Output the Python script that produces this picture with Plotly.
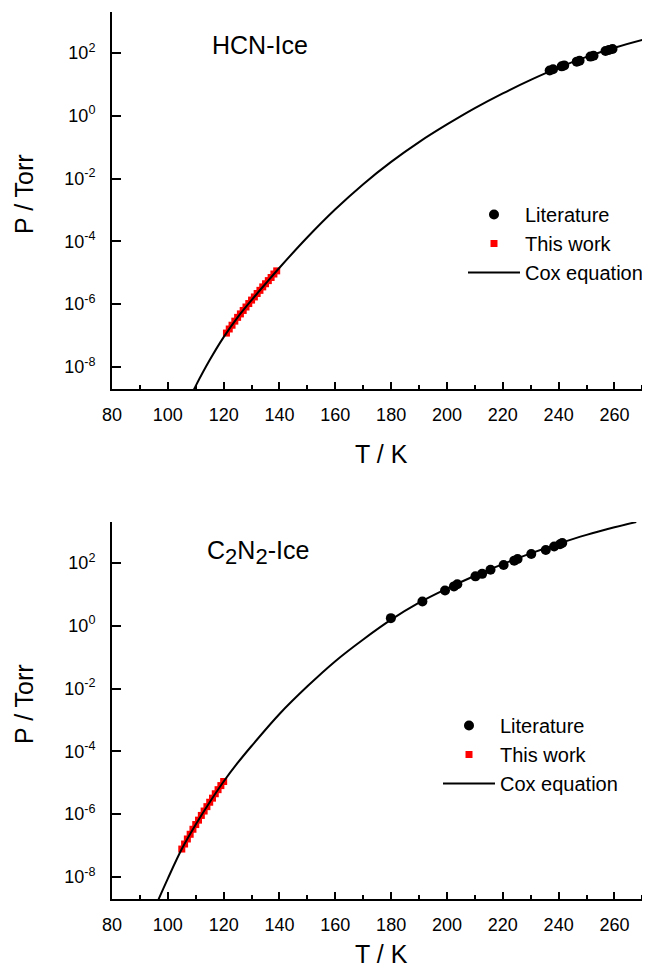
import numpy as np
import plotly.graph_objects as go

# ---------------- data ----------------
# HCN ice (top panel)
hcn_lit_T = [236.8, 238.0, 241.1, 242.0, 246.5, 247.5, 251.4, 252.5, 256.8, 258.0, 259.3]
hcn_lit_logP = [1.44, 1.48, 1.57, 1.60, 1.72, 1.75, 1.88, 1.91, 2.06, 2.09, 2.12]

hcn_work_T = [121, 122, 123, 124, 125, 126, 127, 128, 129, 130,
              131, 132, 133, 134, 135, 136, 137, 138, 139]
hcn_work_logP = [-6.92, -6.79, -6.67, -6.54, -6.42, -6.31, -6.20, -6.09, -5.98, -5.87,
                 -5.77, -5.66, -5.56, -5.45, -5.35, -5.25, -5.15, -5.04, -4.94]

hcn_cox_T = [105, 110, 115, 120, 125, 130, 135, 140, 150, 160, 170, 180,
             190, 200, 210, 220, 230, 240, 250, 260, 270, 280]
hcn_cox_logP = [-9.50, -8.60, -7.78, -7.05, -6.42, -5.87, -5.35, -4.84, -3.87, -2.98,
                -2.18, -1.47, -0.84, -0.28, 0.24, 0.71, 1.14, 1.53, 1.87, 2.16,
                2.41, 2.63]

# C2N2 ice (bottom panel)
c2n2_lit_T = [179.9, 191.2, 199.3, 202.5, 203.7, 210.2, 212.6, 215.6, 220.3, 224.1,
              225.3, 230.2, 235.4, 238.4, 240.5, 241.3]
c2n2_lit_logP = [0.24, 0.77, 1.12, 1.25, 1.32, 1.57, 1.65, 1.78, 1.93, 2.07,
                 2.12, 2.28, 2.41, 2.52, 2.59, 2.63]

c2n2_work_T = [105, 106, 107, 108, 109, 110, 111, 112, 113, 114, 115, 116, 117, 118, 119, 120]
c2n2_work_logP = [-7.11, -6.95, -6.79, -6.64, -6.48, -6.33, -6.19, -6.04, -5.90, -5.76,
                  -5.62, -5.49, -5.35, -5.22, -5.09, -4.96]

c2n2_cox_T = [95, 100, 105, 110, 115, 120, 125, 130, 140, 150, 160, 170, 180,
              190, 200, 210, 220, 230, 240, 250, 260, 267.8]
c2n2_cox_logP = [-9.05, -8.05, -7.11, -6.33, -5.62, -4.96, -4.37, -3.83, -2.81, -1.93,
                 -1.13, -0.44, 0.19, 0.73, 1.18, 1.59, 1.96, 2.30, 2.61, 2.89,
                 3.13, 3.30]

y_tickvals = [1e-8, 1e-6, 1e-4, 1e-2, 1e0, 1e2]
y_ticktext = ["10<sup>-8</sup>", "10<sup>-6</sup>", "10<sup>-4</sup>",
              "10<sup>-2</sup>", "10<sup>0</sup>", "10<sup>2</sup>"]
x_tickvals = [80, 100, 120, 140, 160, 180, 200, 220, 240, 260]

# ---------------- figure ----------------
W, H = 650, 975
OFF = 8  # page body margin of the browser
FONT = "Arial, 'Liberation Sans', sans-serif"


def px(x):
    return (x - OFF) / W


def py(y):
    return 1 - (y - OFF) / H


def P(vals):
    return [10 ** v for v in vals]


fig = go.Figure()

panels = [
    ("x", "y", "legend", hcn_lit_T, hcn_lit_logP, hcn_work_T, hcn_work_logP, hcn_cox_T, hcn_cox_logP),
    ("x2", "y2", "legend2", c2n2_lit_T, c2n2_lit_logP, c2n2_work_T, c2n2_work_logP, c2n2_cox_T, c2n2_cox_logP),
]

for xa, ya, lg, lT, lP, wT, wP, cT, cP in panels:
    fig.add_trace(go.Scatter(
        x=wT, y=P(wP), mode="markers", name="This work", legend=lg, legendrank=2,
        marker=dict(symbol="square", size=7, color="#ff0000", line=dict(width=0)),
        xaxis=xa, yaxis=ya))
    fig.add_trace(go.Scatter(
        x=cT, y=P(cP), mode="lines", name="Cox equation", legend=lg, legendrank=3,
        line=dict(color="black", width=2, shape="spline", smoothing=1.0),
        xaxis=xa, yaxis=ya))
    fig.add_trace(go.Scatter(
        x=lT, y=P(lP), mode="markers", name="Literature", legend=lg, legendrank=1,
        marker=dict(symbol="circle", size=10, color="black", line=dict(width=0)),
        xaxis=xa, yaxis=ya))

xcommon = dict(
    range=[80, 275.6], showline=True, linecolor="black", linewidth=2,
    ticks="inside", ticklen=7, tickwidth=2, tickcolor="black",
    tickmode="array", tickvals=x_tickvals, showgrid=False, zeroline=False, automargin=False,
    tickfont=dict(family=FONT, size=18, color="black"),
    ticklabelstandoff=8,
    minor=dict(dtick=10, tick0=80, ticks="inside", ticklen=4, tickwidth=2,
               tickcolor="black", showgrid=False),
    domain=[px(112), 1],
)
# decade tick marks are drawn through the minor-tick layer (inside), labels by the major ticks
ycommon = dict(
    type="log", range=[-8.7, 3.3], showline=True, linecolor="black", linewidth=2,
    ticks="outside", ticklen=0, tickwidth=2, tickcolor="black",
    tickmode="array", tickvals=y_tickvals, ticktext=y_ticktext,
    showgrid=False, zeroline=False, automargin=False,
    tickfont=dict(family=FONT, size=18, color="black"),
    ticklabelstandoff=11,
    minor=dict(tickmode="array", tickvals=y_tickvals, ticks="inside",
               ticklen=9, tickwidth=2, tickcolor="black", showgrid=False),
)

legcommon = dict(
    font=dict(family=FONT, size=20, color="black"),
    bgcolor="rgba(0,0,0,0)", borderwidth=0, itemwidth=52,
    xanchor="left", yanchor="top", tracegroupgap=0,
    traceorder="normal",
)

fig.update_layout(
    width=W, height=H,
    margin=dict(l=0, r=0, t=0, b=0, autoexpand=False),
    paper_bgcolor="white", plot_bgcolor="white",
    font=dict(family=FONT, color="black"),
    xaxis=dict(xcommon, anchor="y"),
    yaxis=dict(ycommon, anchor="x", domain=[py(389), py(12)]),
    xaxis2=dict(xcommon, anchor="y2"),
    yaxis2=dict(ycommon, anchor="x2", domain=[py(899), py(522)]),
    legend=dict(legcommon, x=px(463), y=py(195)),
    legend2=dict(legcommon, x=px(438), y=py(706)),
    showlegend=True,
)

ann_font = dict(family=FONT, size=25, color="black")
sub2 = "<sub><span style='font-size:22px'>2</span></sub>"
annotations = [
    dict(text="HCN-Ice", x=px(210), y=py(45), xanchor="left", yanchor="middle"),
    dict(text="C" + sub2 + "N" + sub2 + "-Ice", x=px(205), y=py(552), xanchor="left", yanchor="middle"),
    dict(text="P / Torr", x=px(24), y=py(194), textangle=-90, xanchor="center", yanchor="middle"),
    dict(text="P / Torr", x=px(24), y=py(704), textangle=-90, xanchor="center", yanchor="middle"),
    dict(text="T / K", x=px(381), y=py(454), xanchor="center", yanchor="middle"),
    dict(text="T / K", x=px(381), y=py(954), xanchor="center", yanchor="middle"),
]
for a in annotations:
    fig.add_annotation(xref="paper", yref="paper", showarrow=False, font=ann_font, **a)

fig.write_html("out.html")
